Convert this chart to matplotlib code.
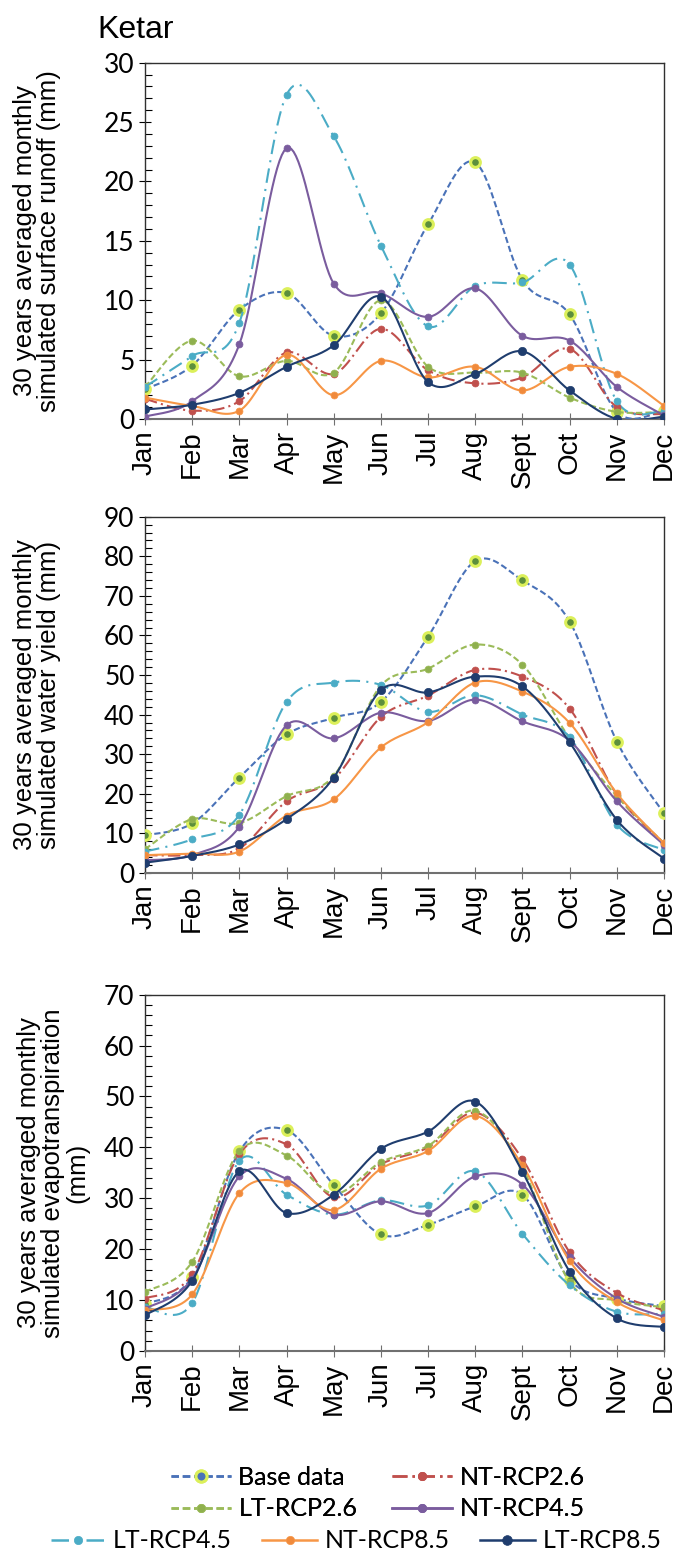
import numpy as np
import matplotlib
matplotlib.use('Agg')
import matplotlib.pyplot as plt
from matplotlib.lines import Line2D
from matplotlib.ticker import MultipleLocator

# months on the x axis
months = ['Jan', 'Feb', 'Mar', 'Apr', 'May', 'Jun', 'Jul', 'Aug', 'Sept', 'Oct', 'Nov', 'Dec']
series_names = ['Base data', 'NT-RCP2.6', 'LT-RCP2.6', 'NT-RCP4.5', 'LT-RCP4.5', 'NT-RCP8.5', 'LT-RCP8.5']

# surface runoff (mm)
runoff_base = [2.5, 4.5, 9.2, 10.6, 7.0, 8.9, 16.4, 21.6, 11.7, 8.8, 0.6, 0.7]
runoff_nt26 = [1.7, 0.7, 1.5, 5.6, 3.8, 7.6, 4.1, 3.0, 3.5, 5.9, 1.0, 0.4]
runoff_lt26 = [2.7, 6.6, 3.6, 4.9, 3.9, 10.0, 4.4, 3.9, 3.9, 1.8, 0.6, 0.6]
runoff_nt45 = [0.2, 1.5, 6.3, 22.8, 11.4, 10.6, 8.6, 11.0, 7.0, 6.6, 2.7, 0.3]
runoff_lt45 = [2.7, 5.3, 8.1, 27.3, 23.8, 14.6, 7.8, 11.2, 11.5, 13.0, 1.5, 0.7]
runoff_nt85 = [1.8, 1.1, 0.7, 5.4, 2.0, 4.9, 3.5, 4.4, 2.4, 4.4, 3.8, 1.1]
runoff_lt85 = [0.8, 1.2, 2.2, 4.4, 6.2, 10.3, 3.1, 3.8, 5.7, 2.4, 0.0, 0.2]

# water yield (mm)
wyld_base = [9.5, 12.5, 24.1, 35.0, 39.2, 43.2, 59.7, 78.8, 73.9, 63.5, 33.2, 15.1]
wyld_nt26 = [4.5, 4.5, 6.2, 18.1, 23.7, 39.4, 44.8, 51.3, 49.6, 41.5, 19.8, 7.5]
wyld_lt26 = [6.0, 13.6, 12.6, 19.4, 24.5, 47.3, 51.6, 57.7, 52.6, 34.0, 19.4, 7.5]
wyld_nt45 = [3.2, 4.5, 11.7, 37.3, 34.0, 40.5, 38.4, 43.8, 38.3, 33.4, 18.1, 7.1]
wyld_lt45 = [5.4, 8.5, 14.7, 43.2, 48.1, 47.5, 40.7, 44.9, 40.0, 34.3, 12.2, 5.8]
wyld_nt85 = [4.5, 4.9, 5.4, 14.5, 18.6, 31.7, 38.1, 48.1, 45.8, 37.9, 20.1, 7.5]
wyld_lt85 = [2.6, 4.3, 7.2, 13.6, 24.1, 46.2, 45.6, 49.6, 47.1, 33.0, 13.4, 3.6]

# evapotranspiration (mm)
et_base = [9.2, 14.6, 39.2, 43.4, 32.6, 22.9, 24.8, 28.4, 30.7, 14.0, 10.3, 8.8]
et_nt26 = [10.3, 15.1, 38.7, 40.6, 30.2, 36.7, 40.0, 46.8, 37.7, 19.4, 11.4, 8.0]
et_lt26 = [11.6, 17.5, 39.3, 38.4, 30.9, 37.1, 40.3, 47.2, 36.0, 13.5, 9.9, 8.6]
et_nt45 = [8.3, 14.2, 34.3, 33.8, 26.8, 29.4, 27.1, 34.3, 32.7, 18.4, 10.3, 6.7]
et_lt45 = [8.6, 9.4, 37.4, 30.7, 26.8, 29.6, 28.6, 35.3, 23.0, 12.9, 7.7, 7.3]
et_nt85 = [8.0, 11.1, 31.0, 33.0, 27.7, 35.8, 39.3, 46.2, 36.5, 17.7, 9.6, 6.0]
et_lt85 = [7.0, 13.8, 35.3, 27.1, 30.7, 39.7, 43.1, 49.0, 35.2, 15.6, 6.4, 4.7]

runoff = [runoff_base, runoff_nt26, runoff_lt26, runoff_nt45, runoff_lt45, runoff_nt85, runoff_lt85]
wyld = [wyld_base, wyld_nt26, wyld_lt26, wyld_nt45, wyld_lt45, wyld_nt85, wyld_lt85]
et = [et_base, et_nt26, et_lt26, et_nt45, et_lt45, et_nt85, et_lt85]

# line styles per series (Excel look)
styles = [
    dict(color='#4a72b8', ls=(0, (3, 1.5)), mfc='#5c8f3c', mec='#dcf05a', mew=2.2, ms=7),
    dict(color='#c0504d', ls=(0, (6, 2, 1, 2)), mfc='#c0504d', mec='#c0504d', mew=0.5, ms=5),
    dict(color='#9bbb59', ls=(0, (3, 1.5)), mfc='#8fb04e', mec='#9bbb59', mew=0.5, ms=5),
    dict(color='#7a5c9e', ls='-', mfc='#7a5c9e', mec='#7a5c9e', mew=0.5, ms=5),
    dict(color='#4bacc6', ls=(0, (7, 3, 1, 3)), mfc='#4bacc6', mec='#4bacc6', mew=0.5, ms=5),
    dict(color='#f79646', ls='-', mfc='#f08a3c', mec='#f79646', mew=0.5, ms=5),
    dict(color='#1f3d6e', ls='-', mfc='#1f3d6e', mec='#1f3d6e', mew=0.5, ms=6),
]
zorders = [3, 4, 4, 5, 4, 5, 6]


def smooth(y, n=20):
    # catmull-rom like the excel smoothed line
    y = np.asarray(y, float)
    x = np.arange(len(y), dtype=float)
    px = np.concatenate([[x[0]], x, [x[-1]]])
    py = np.concatenate([[y[0]], y, [y[-1]]])
    xs, ys = [], []
    t = np.linspace(0, 1, n, endpoint=False)
    for i in range(1, len(px) - 2):
        for arr, out in ((px, xs), (py, ys)):
            p0, p1, p2, p3 = arr[i - 1], arr[i], arr[i + 1], arr[i + 2]
            out.append(0.5 * ((2 * p1) + (-p0 + p2) * t
                              + (2 * p0 - 5 * p1 + 4 * p2 - p3) * t ** 2
                              + (-p0 + 3 * p1 - 3 * p2 + p3) * t ** 3))
    xs.append([x[-1]])
    ys.append([y[-1]])
    return np.concatenate(xs), np.concatenate(ys)


fig = plt.figure(figsize=(6.77, 15.53), dpi=100)

panels = [
    (runoff, 30, 5, 1, 0.7302, '30 years averaged monthly\nsimulated surface runoff (mm)'),
    (wyld, 90, 10, 2, 0.4379, '30 years averaged monthly\nsimulated water yield (mm)'),
    (et, 70, 10, 2, 0.1301, '30 years averaged monthly\nsimulated evapotranspiration\n(mm)'),
]

x = np.arange(len(months))
for data, ymax, major, minor, bottom, ylab in panels:
    ax = fig.add_axes([0.2142, bottom, 0.7666, 0.2294])
    for vals, st, z in zip(data, styles, zorders):
        sx, sy = smooth(vals)
        ax.plot(sx, sy, color=st['color'], ls=st['ls'], lw=1.5, zorder=z)
        ax.plot(x, vals, ls='none', marker='o', ms=st['ms'], mfc=st['mfc'],
                mec=st['mec'], mew=st['mew'], zorder=z + 0.5)
    ax.set_xlim(0, 11)
    ax.set_ylim(0, ymax)
    ax.set_xticks(x)
    ax.set_xticklabels(months, rotation=90, fontsize=20, family='Liberation Sans')
    ax.yaxis.set_major_locator(MultipleLocator(major))
    ax.yaxis.set_minor_locator(MultipleLocator(minor))
    for lbl in ax.get_yticklabels():
        lbl.set_family('Lato')
        lbl.set_fontsize(19)
    ax.tick_params(axis='y', which='major', direction='inout', length=9, width=0.8, pad=3)
    ax.tick_params(axis='y', which='minor', direction='in', length=5, width=0.8)
    ax.tick_params(axis='x', which='major', direction='inout', length=9, width=0.8, pad=4,
                   color='#707070')
    for s in ax.spines.values():
        s.set_linewidth(1.0)
        s.set_color('#303030')
    ax.spines['bottom'].set_color('#707070')
    ax.spines['bottom'].set_linewidth(1.5)
    yc = bottom + 0.2294 / 2
    nlines = ylab.count('\n') + 1
    xc = 37.5 / 677 if nlines == 2 else 53 / 677
    fig.text(xc, yc, ylab, rotation=90, ha='center', va='center', multialignment='center',
             fontsize=18.5, family='Liberation Sans', linespacing=1.0)

fig.text(97 / 677, 1 - 30 / 1553, 'Ketar', fontsize=23, family='Liberation Sans',
         ha='left', va='center')

# legend
handles = []
for name, st in zip(series_names, styles):
    handles.append(Line2D([], [], color=st['color'], ls=st['ls'], lw=1.8, marker='o',
                          ms=st['ms'] + 1, mfc=st['mfc'] if name != 'Base data' else '#4a72b8',
                          mec=st['mec'], mew=st['mew'], label=name))

order1 = [0, 2, 1, 3]
leg1 = fig.legend([handles[i] for i in order1], [series_names[i] for i in order1],
                  ncol=2, loc='center', bbox_to_anchor=(378 / 677, 1 - 1493 / 1553),
                  frameon=False, prop={'family': 'Lato', 'size': 18}, handlelength=2.4,
                  handletextpad=0.3, columnspacing=1.4, labelspacing=0.35, borderpad=0)
order2 = [4, 5, 6]
leg2 = fig.legend([handles[i] for i in order2], [series_names[i] for i in order2],
                  ncol=3, loc='center', bbox_to_anchor=(356 / 677, 1 - 1541 / 1553),
                  frameon=False, prop={'family': 'Lato', 'size': 18}, handlelength=2.2,
                  handletextpad=0.3, columnspacing=1.2, borderpad=0)
fig.add_artist(leg1)

fig.savefig('out.png', dpi=100)
